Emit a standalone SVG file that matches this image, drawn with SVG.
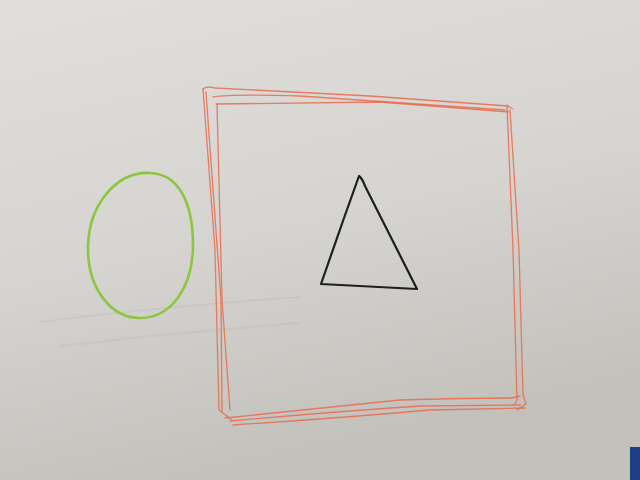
<svg xmlns="http://www.w3.org/2000/svg" width="640" height="480" viewBox="0 0 640 480">
<defs>
<linearGradient id="bg" x1="0" y1="0" x2="0.3" y2="1">
<stop offset="0" stop-color="#e0dfdc"/>
<stop offset="0.55" stop-color="#d5d4d0"/>
<stop offset="1" stop-color="#c2c1bc"/>
</linearGradient>
<style>
.red{fill:none;stroke:#ea6a4c;stroke-width:1.3;stroke-linecap:round;stroke-linejoin:round;opacity:0.85}
.green{fill:none;stroke:#8cc63f;stroke-width:2.6}
.black{fill:none;stroke:#1e1e1c;stroke-width:2.2;stroke-linejoin:round}
.smudge{fill:none;stroke:#b4b4af;stroke-linecap:round}
</style>
</defs>
<rect width="640" height="480" fill="url(#bg)"/>
<g id="smudges">
<path class="smudge" d="M40 322 Q150 308 300 297" stroke-width="1.5" opacity="0.35"/>
<path class="smudge" d="M60 346 Q180 332 300 323" stroke-width="2.5" opacity="0.25"/>
</g>
<g id="square">
<path class="red" d="M203 89 Q206 86 215 88 L370 96 L508 106 L513 109"/>
<path class="red" d="M213 97 Q230 94 300 96 L505 110"/>
<path class="red" d="M216 104 L380 102 L509 112"/>
<path class="red" d="M203 89 L215 250 L219 410 L232 420"/>
<path class="red" d="M206 92 L221 300 L222 412"/>
<path class="red" d="M217 104 L222 300 L230 410"/>
<path class="red" d="M507 105 L513 250 L517 400 L514 405"/>
<path class="red" d="M510 110 L519 250 L523 395 L526 404 L517 410"/>
<path class="red" d="M225 418 Q300 410 400 400 Q470 398 512 398 L520 396"/>
<path class="red" d="M230 421 Q330 412 420 406 L520 405"/>
<path class="red" d="M233 425 Q340 418 430 410 L525 408"/>
</g>
<g id="ellipse">
<path class="green" d="M150 173 C120 171 90 200 88 245 C87 290 112 318 140 318 C172 318 193 286 193 245 C193 205 180 174 150 173 Z"/>
</g>
<g id="triangle">
<path class="black" d="M359 176 Q362 178 365 186 L417 289 L321 284 L344 218 Z"/>
</g>
<g id="corner">
<rect x="630" y="447" width="10" height="33" fill="#1d3f86"/>
</g>
</svg>
